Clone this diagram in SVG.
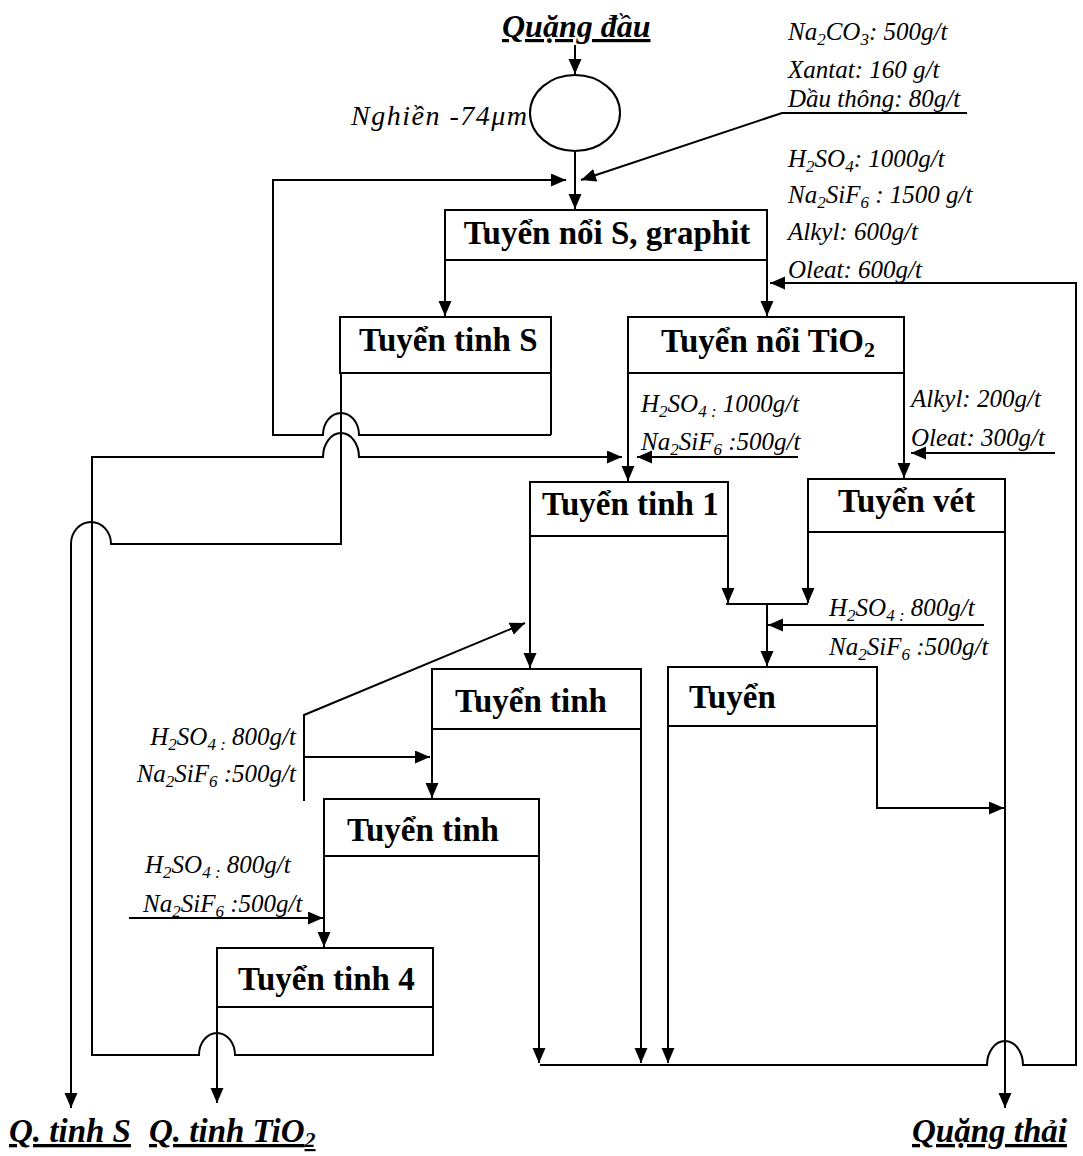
<svg xmlns="http://www.w3.org/2000/svg" width="1083" height="1156" viewBox="0 0 1083 1156">
<style>
.hdr{font-family:"Liberation Serif","Times New Roman",serif;font-weight:bold;font-size:33px;fill:#000}
.rg{font-family:"Liberation Serif","Times New Roman",serif;font-style:italic;font-size:25px;fill:#000}
.lbl{font-family:"Liberation Serif","Times New Roman",serif;font-style:italic;font-weight:bold;font-size:33px;fill:#000;text-decoration:underline}
.box{fill:none;stroke:#000;stroke-width:2}
.ln{fill:none;stroke:#000;stroke-width:2}
.arr{fill:none;stroke:#000;stroke-width:2;marker-end:url(#ah)}
</style>
<defs>
<marker id="ah" markerUnits="userSpaceOnUse" markerWidth="16" markerHeight="14" refX="15" refY="6.5" orient="auto">
<path d="M0,0 L15,6.5 L0,13 z" fill="#000"/>
</marker>
</defs>
<rect width="1083" height="1156" fill="#fff"/>

<g id="connectors">
<path class="arr" d="M575,45 V74"/>
<path class="arr" d="M575,152 V209"/>
<path class="arr" d="M967,113 H782 L581,180"/>
<path class="arr" d="M551,435 H359 A18,22 0 0 0 323,435 H273 V180 H566"/>
<path class="arr" d="M445,260 V316"/>
<path class="arr" d="M767,260 V316"/>
<path class="arr" d="M540,1065 H987 A18,24 0 0 1 1023,1065 H1076 V283 H770"/>
<path class="arr" d="M341,373 V544 H111 A20,22 0 0 0 71,544 V1108"/>
<path class="arr" d="M433,1007 V1055 H235 A18,22 0 0 0 199,1055 H92 V457 H323 A18,24 0 0 1 359,457 H622"/>
<path class="arr" d="M628,373 V481"/>
<path class="arr" d="M798,457 H637"/>
<path class="arr" d="M904,373 V478"/>
<path class="arr" d="M1055,453 H911"/>
<path class="arr" d="M728,536 V603"/>
<path class="arr" d="M808,532 V603"/>
<path class="ln" d="M726,604 H808"/>
<path class="arr" d="M767,604 V666"/>
<path class="arr" d="M984,625 H768"/>
<path class="arr" d="M1005,532 V1108"/>
<path class="arr" d="M877,726 V808 H1004"/>
<path class="arr" d="M668,726 V1063"/>
<path class="arr" d="M530,536 V668"/>
<path class="arr" d="M304,801 V715 L525,623"/>
<path class="arr" d="M304,757 H430"/>
<path class="arr" d="M432,729 V798"/>
<path class="arr" d="M641,729 V1063"/>
<path class="arr" d="M539,856 V1063"/>
<path class="arr" d="M324,856 V947"/>
<path class="arr" d="M129,918 H323"/>
<path class="arr" d="M217,1007 V1103"/>
</g>

<g id="n-quang-dau"><text class="lbl" x="502" y="37" style="font-size:32px">Quặng đầu</text></g>
<g id="n-nghien">
<ellipse class="box" cx="575" cy="113" rx="45" ry="38"/>
<text class="rg" x="351" y="125" style="font-size:28px;letter-spacing:1.5px">Nghiền -74μm</text>
</g>
<g id="n-tuyen-noi-s">
<rect class="box" x="445" y="210" width="322" height="50"/>
<text class="hdr" x="607" y="244" text-anchor="middle">Tuyển nổi S, graphit</text>
</g>
<g id="n-tuyen-tinh-s">
<rect class="box" x="340" y="317" width="211" height="56"/>
<path class="ln" d="M551,373 V435"/>
<text class="hdr" x="359" y="351">Tuyển tinh S</text>
</g>
<g id="n-tuyen-noi-tio2">
<rect class="box" x="628" y="317" width="276" height="56"/>
<text class="hdr" x="661" y="352">Tuyển nổi TiO<tspan font-size="22" dy="5">2</tspan></text>
</g>
<g id="n-tuyen-tinh-1">
<rect class="box" x="530" y="482" width="198" height="54"/>
<text class="hdr" x="542" y="515">Tuyển tinh 1</text>
</g>
<g id="n-tuyen-vet">
<rect class="box" x="808" y="479" width="197" height="53"/>
<text class="hdr" x="838" y="512">Tuyển vét</text>
</g>
<g id="n-tuyen-tinh-a">
<rect class="box" x="432" y="669" width="209" height="60"/>
<text class="hdr" x="455" y="712">Tuyển tinh</text>
</g>
<g id="n-tuyen">
<rect class="box" x="668" y="667" width="209" height="59"/>
<text class="hdr" x="689" y="708">Tuyển</text>
</g>
<g id="n-tuyen-tinh-b">
<rect class="box" x="324" y="799" width="215" height="57"/>
<text class="hdr" x="347" y="841">Tuyển tinh</text>
</g>
<g id="n-tuyen-tinh-4">
<rect class="box" x="217" y="948" width="216" height="59"/>
<text class="hdr" x="238" y="990">Tuyển tinh 4</text>
</g>
<g id="n-q-tinh-s"><text class="lbl" x="9" y="1142">Q. tinh S</text></g>
<g id="n-q-tinh-tio2"><text class="lbl" x="149" y="1142">Q. tinh TiO<tspan font-size="22" dy="5">2</tspan></text></g>
<g id="n-quang-thai"><text class="lbl" x="912" y="1142">Quặng thải</text></g>

<g id="reagents">
<text class="rg" x="788" y="40">Na<tspan font-size="17" dy="5">2</tspan><tspan dy="-5">CO</tspan><tspan font-size="17" dy="5">3</tspan><tspan dy="-5">: 500g/t</tspan></text>
<text class="rg" x="788" y="78">Xantat: 160 g/t</text>
<text class="rg" x="788" y="107">Dầu thông: 80g/t</text>
<text class="rg" x="788" y="167">H<tspan font-size="17" dy="5">2</tspan><tspan dy="-5">SO</tspan><tspan font-size="17" dy="5">4</tspan><tspan dy="-5">: 1000g/t</tspan></text>
<text class="rg" x="788" y="203">Na<tspan font-size="17" dy="5">2</tspan><tspan dy="-5">SiF</tspan><tspan font-size="17" dy="5">6</tspan><tspan dy="-5"> : 1500 g/t</tspan></text>
<text class="rg" x="788" y="240">Alkyl: 600g/t</text>
<text class="rg" x="788" y="278">Oleat: 600g/t</text>

<text class="rg" x="641" y="412">H<tspan font-size="17" dy="5">2</tspan><tspan dy="-5">SO</tspan><tspan font-size="17" dy="5">4 :</tspan><tspan dy="-5"> 1000g/t</tspan></text>
<text class="rg" x="641" y="450">Na<tspan font-size="17" dy="5">2</tspan><tspan dy="-5">SiF</tspan><tspan font-size="17" dy="5">6</tspan><tspan dy="-5"> :500g/t</tspan></text>
<text class="rg" x="911" y="407">Alkyl: 200g/t</text>
<text class="rg" x="911" y="446">Oleat: 300g/t</text>

<text class="rg" x="829" y="616">H<tspan font-size="17" dy="5">2</tspan><tspan dy="-5">SO</tspan><tspan font-size="17" dy="5">4 :</tspan><tspan dy="-5"> 800g/t</tspan></text>
<text class="rg" x="829" y="655">Na<tspan font-size="17" dy="5">2</tspan><tspan dy="-5">SiF</tspan><tspan font-size="17" dy="5">6</tspan><tspan dy="-5"> :500g/t</tspan></text>

<text class="rg" x="296" y="745" text-anchor="end">H<tspan font-size="17" dy="5">2</tspan><tspan dy="-5">SO</tspan><tspan font-size="17" dy="5">4 :</tspan><tspan dy="-5"> 800g/t</tspan></text>
<text class="rg" x="296" y="782" text-anchor="end">Na<tspan font-size="17" dy="5">2</tspan><tspan dy="-5">SiF</tspan><tspan font-size="17" dy="5">6</tspan><tspan dy="-5"> :500g/t</tspan></text>

<text class="rg" x="145" y="873">H<tspan font-size="17" dy="5">2</tspan><tspan dy="-5">SO</tspan><tspan font-size="17" dy="5">4 :</tspan><tspan dy="-5"> 800g/t</tspan></text>
<text class="rg" x="143" y="912">Na<tspan font-size="17" dy="5">2</tspan><tspan dy="-5">SiF</tspan><tspan font-size="17" dy="5">6</tspan><tspan dy="-5"> :500g/t</tspan></text>
</g>
</svg>
